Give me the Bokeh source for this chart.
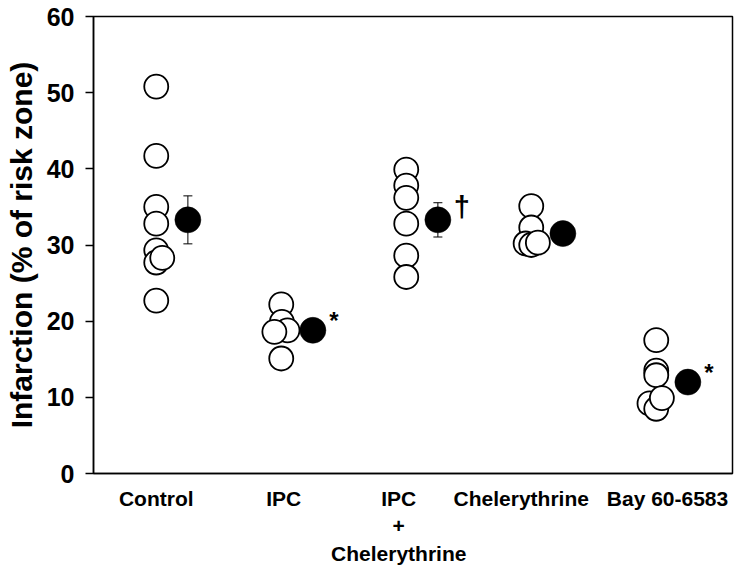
from bokeh.plotting import figure
from bokeh.models import ColumnDataSource, FixedTicker, Whisker, TeeHead, Range1d
from bokeh.core.properties import value
from bokeh.embed import file_html
from bokeh.resources import INLINE

# ---- data ----
categories = ["Control", "IPC", "IPC\n+\nChelerythrine", "Chelerythrine", "Bay 60-6583"]
control = [50.8, 41.7, 35.0, 32.8, 29.3, 27.7, 28.3, 22.7]
ipc = [22.2, 19.9, 18.8, 18.6, 15.1]
ipc_chel = [39.9, 37.8, 36.2, 32.8, 28.6, 25.8]
chel = [35.1, 32.3, 30.2, 30.0, 30.3]
bay = [17.5, 13.5, 12.9, 9.2, 8.5, 9.9]
means = [33.3, 18.8, 33.3, 31.5, 12.0]
sems = [3.15, 1.0, 2.25, 0.9, 1.2]
marks = ["", "*", "†", "", "*"]
y_ticks = [0, 10, 20, 30, 40, 50, 60]

# ---- layout helpers (horizontal jitter of open circles, label positions) ----
jitter = [
    [0, 0, 0, 0, 0, 0, 0.048, 0],
    [0, 0.005, 0.05, -0.055, 0],
    [0, 0, 0, 0, 0, 0],
    [0, 0, -0.045, 0, 0.053],
    [0, 0, 0, -0.054, 0, 0.045],
]
label_pos = [1.0, 2.02, 2.94, 3.92, 5.09]
mean_offset = 0.253
mark_sizes = {"*": "24px", "†": "29px"}

groups = [control, ipc, ipc_chel, chel, bay]

ox, oy = [], []
for i, (vals, jit) in enumerate(zip(groups, jitter)):
    for v, j in zip(vals, jit):
        ox.append(i + 1 + j)
        oy.append(v)

mx = [i + 1 + mean_offset for i in range(len(means))]
src_open = ColumnDataSource(dict(x=ox, y=oy))
src_mean = ColumnDataSource(dict(x=mx, y=means,
                                 lo=[m - s for m, s in zip(means, sems)],
                                 hi=[m + s for m, s in zip(means, sems)]))
mk = [t for t in marks if t]
src_mark = ColumnDataSource(dict(x=[x for x, t in zip(mx, marks) if t],
                                 y=[m for m, t in zip(means, marks) if t],
                                 t=mk,
                                 fs=[mark_sizes[t] for t in mk],
                                 xo=[21 if t == "*" else 24 for t in mk],
                                 yo=[-10 if t == "*" else -13 for t in mk]))

p = figure(width=746, height=568, output_backend="svg", toolbar_location=None,
           x_range=Range1d(0.498, 5.610), y_range=Range1d(0, 60),
           min_border_left=93, min_border_right=14, min_border_top=16, min_border_bottom=95)

p.background_fill_color = "white"
p.border_fill_color = "white"
p.outline_line_color = "black"
p.outline_line_width = 1.5
p.xgrid.visible = False
p.ygrid.visible = False

FONT = "Liberation Sans"

# y axis
p.yaxis.ticker = FixedTicker(ticks=y_ticks)
p.yaxis.minor_tick_line_color = None
p.yaxis.major_tick_out = 8
p.yaxis.major_tick_in = 0
p.yaxis.major_tick_line_width = 1.5
p.yaxis.axis_line_width = 1.5
p.yaxis.major_label_text_font = FONT
p.yaxis.major_label_text_font_style = "bold"
p.yaxis.major_label_text_font_size = "25px"
p.yaxis.major_label_text_color = "black"
p.yaxis.major_label_standoff = 11
p.yaxis.axis_label = "Infarction (% of risk zone)"
p.yaxis.axis_label_text_font = FONT
p.yaxis.axis_label_text_font_style = "bold"
p.yaxis.axis_label_text_font_size = "30px"
p.yaxis.axis_label_text_color = "black"
p.yaxis.axis_label_standoff = 6

# x axis
p.xaxis.ticker = FixedTicker(ticks=label_pos)
p.xaxis.major_label_overrides = {pos: lab for pos, lab in zip(label_pos, categories)}
p.xaxis.major_tick_line_color = None
p.xaxis.minor_tick_line_color = None
p.xaxis.axis_line_width = 1.5
p.xaxis.major_label_text_font = FONT
p.xaxis.major_label_text_font_style = "bold"
p.xaxis.major_label_text_font_size = "21px"
p.xaxis.major_label_text_color = "black"
p.xaxis.major_label_standoff = 7

# error bars
p.add_layout(Whisker(source=src_mean, base="x", lower="lo", upper="hi",
                     line_color="black", line_width=1,
                     lower_head=TeeHead(size=9, line_width=1, line_color="black"),
                     upper_head=TeeHead(size=9, line_width=1, line_color="black")))

# individual points
p.scatter("x", "y", source=src_open, marker="circle", size=24,
          fill_color="white", line_color="black", line_width=1.8)

# means
p.scatter("x", "y", source=src_mean, marker="circle", size=26,
          fill_color="black", line_color="black", line_width=0.5)

# significance marks
p.text("x", "y", text="t", source=src_mark, x_offset="xo", y_offset="yo",
       text_font=value(FONT), text_font_style="bold", text_font_size="fs",
       text_align="center", text_baseline="middle", text_color="black")

open("out.html", "w").write(file_html(p, INLINE))
